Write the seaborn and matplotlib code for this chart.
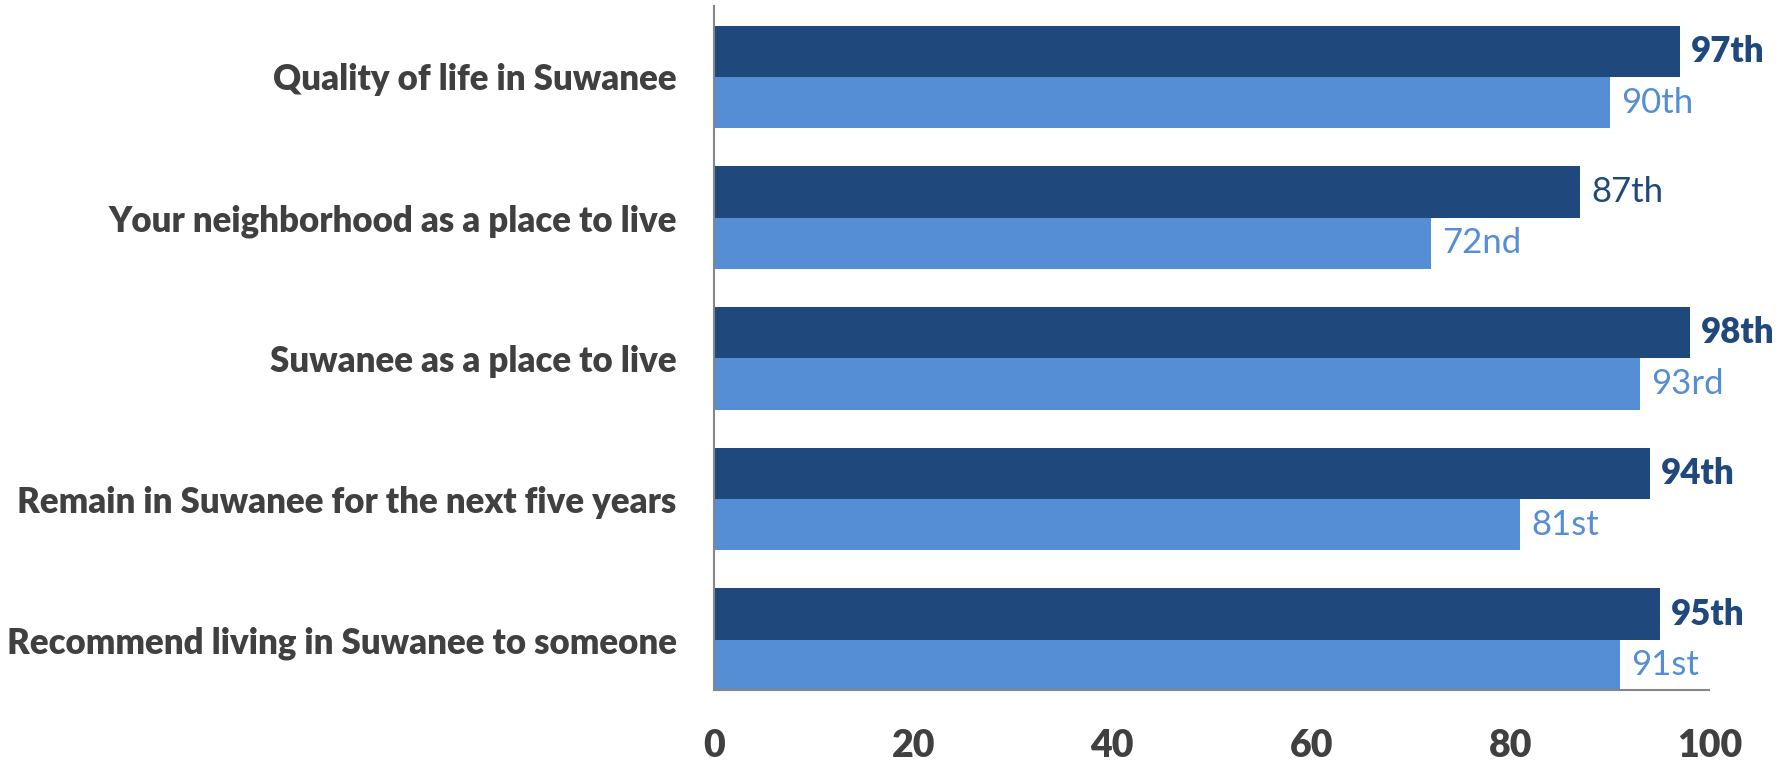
import matplotlib
matplotlib.use("Agg")
import matplotlib.pyplot as plt
import seaborn as sns
import pandas as pd

categories = [
    "Quality of life in Suwanee",
    "Your neighborhood as a place to live",
    "Suwanee as a place to live",
    "Remain in Suwanee for the next five years",
    "Recommend living in Suwanee to someone",
]
series_names = ["Series A", "Series B"]
values_a = [97, 87, 98, 94, 95]
values_b = [90, 72, 93, 81, 91]
labels_a = ["97th", "87th", "98th", "94th", "95th"]
labels_b = ["90th", "72nd", "93rd", "81st", "91st"]
bold_a = [True, False, True, True, True]
xticks = [0, 20, 40, 60, 80, 100]

dark = "#1F497D"
light = "#558ED5"
grey_text = "#404040"

sns.set_theme(style="white")
plt.rcParams["font.family"] = ["Lato", "DejaVu Sans"]

df = pd.DataFrame({
    "category": categories * 2,
    "series": [series_names[0]] * 5 + [series_names[1]] * 5,
    "value": values_a + values_b,
})

fig = plt.figure(figsize=(17.9, 7.74), dpi=100)
ax = fig.add_axes([0.399, 0.1085, 0.556, 0.8835])
sns.barplot(data=df, y="category", x="value", hue="series", order=categories,
            hue_order=series_names, palette=[dark, light], orient="h",
            width=0.73, gap=0, saturation=1, ax=ax, legend=False, linewidth=0)

ax.set_xlim(0, 100)
ax.set_ylim(4.357, -0.503)
ax.set_xticks(xticks)
ax.set_xticklabels([str(t) for t in xticks], fontsize=27, fontweight="heavy", color=grey_text)
ax.tick_params(axis="x", pad=28, length=0)
ax.tick_params(axis="y", pad=27, length=0)
ax.set_yticklabels(categories, fontsize=25, fontweight="heavy", color=grey_text)
ax.set_xlabel("")
ax.set_ylabel("")
for s in ["top", "right"]:
    ax.spines[s].set_visible(False)
for s in ["left", "bottom"]:
    ax.spines[s].set_color("#868686")
    ax.spines[s].set_linewidth(1.5)

bh = 0.73 / 2
for i in range(len(categories)):
    ax.annotate(labels_a[i], (values_a[i], i - bh / 2), xytext=(8, 0), textcoords="offset points",
                va="center", ha="left", fontsize=25, color=dark,
                fontweight="heavy" if bold_a[i] else "normal")
    ax.annotate(labels_b[i], (values_b[i], i + bh / 2), xytext=(8, 0), textcoords="offset points",
                va="center", ha="left", fontsize=25, color=light, fontweight="normal")

fig.savefig("out.png", dpi=100)
